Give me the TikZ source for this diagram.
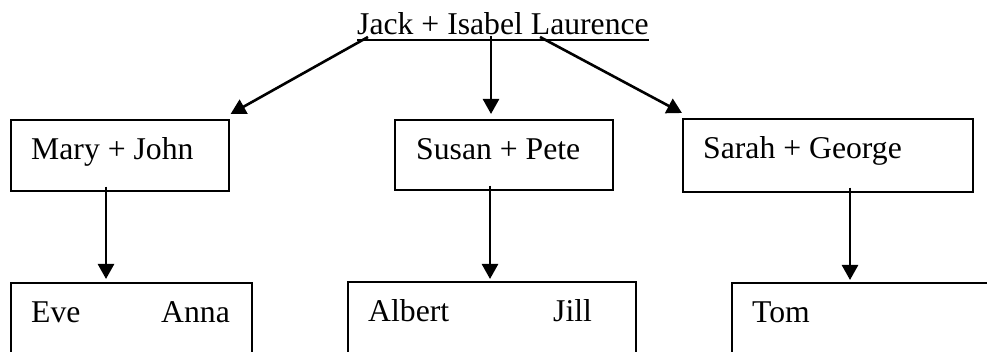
\documentclass[tikz,border=0pt]{standalone}
\usepackage{fontspec}
\setmainfont{Liberation Serif}
\usetikzlibrary{arrows.meta}

\begin{document}
\begin{tikzpicture}[x=1pt, y=-1pt,
			font=\fontsize{31.7pt}{38pt}\selectfont,
			famBox/.style={draw, line width=1.6pt, anchor=north west, inner sep=0pt},
			famName/.style={anchor=base west, inner sep=0pt},
			famArrow/.style={line width=2.6pt, -{Triangle[length=15pt, width=16pt]}}]
			\useasboundingbox (0,0) rectangle (987,352);
			\clip (0,0) rectangle (987,352);
			\node[famName] (parents) at (357,35) {Jack + Isabel Laurence};
			\draw[line width=1.5pt] ([yshift=-5pt]parents.base west) -- ([yshift=-5pt]parents.base east);
			\node[famBox, minimum width=218pt, minimum height=71pt] (mary) at (10,119) {};
			\node[famBox, minimum width=218pt, minimum height=70pt] (susan) at (394,119) {};
			\node[famBox, minimum width=290pt, minimum height=73pt] (sarah) at (682,118) {};
			\node[famBox, minimum width=241pt, minimum height=100pt] (kidsMary) at (10,282) {};
			\node[famBox, minimum width=288pt, minimum height=100pt] (kidsSusan) at (347,281) {};
			\node[famBox, minimum width=300pt, minimum height=100pt] (kidsSarah) at (731,282) {};
			\node[famName] (maryName) at ([xshift=21pt,yshift=-41pt]mary.north west) {Mary + John};
			\node[famName] (susanName) at ([xshift=22pt,yshift=-41pt]susan.north west) {Susan + Pete};
			\node[famName] (sarahName) at ([xshift=21pt,yshift=-41pt]sarah.north west) {Sarah + George};
			\node[famName] (eveName) at ([xshift=21pt,yshift=-41pt]kidsMary.north west) {Eve};
			\node[famName] (annaName) at ([xshift=151pt,yshift=-41pt]kidsMary.north west) {Anna};
			\node[famName] (albertName) at ([xshift=21pt,yshift=-41pt]kidsSusan.north west) {Albert};
			\node[famName] (jillName) at ([xshift=206pt,yshift=-41pt]kidsSusan.north west) {Jill};
			\node[famName] (tomName) at ([xshift=21pt,yshift=-41pt]kidsSarah.north west) {Tom};
			\draw[famArrow] ([xshift=11pt,yshift=-2pt]parents.base west) -- ([xshift=1pt,yshift=5pt]mary.north east);
			\draw[famArrow] ([xshift=134pt,yshift=-1pt]parents.base west) -- ([xshift=97pt,yshift=5pt]susan.north west);
			\draw[famArrow] ([xshift=183pt,yshift=-2pt]parents.base west) -- ([yshift=5pt]sarah.north west);
			\draw[famArrow] ([xshift=96pt,yshift=5pt]mary.south west) -- ([xshift=96pt,yshift=3pt]kidsMary.north west);
			\draw[famArrow] ([xshift=96pt,yshift=5pt]susan.south west) -- ([xshift=143pt,yshift=2pt]kidsSusan.north west);
			\draw[famArrow] ([xshift=168pt,yshift=5pt]sarah.south west) -- ([xshift=119pt,yshift=2pt]kidsSarah.north west);
\end{tikzpicture}
\end{document}
